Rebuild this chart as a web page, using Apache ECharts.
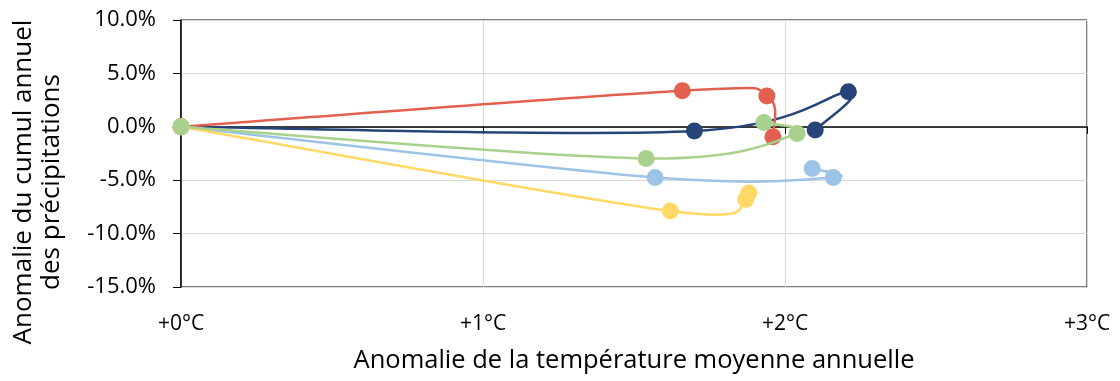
<!DOCTYPE html>
<html>
<head>
<meta charset="utf-8">
<script src="https://cdn.jsdelivr.net/npm/echarts@6/dist/echarts.min.js"></script>
<style>
html,body{margin:0;padding:0;background:#fff;}
#c{width:1120px;height:381px;}
</style>
</head>
<body>
<div id="c"></div>
<script>
// Temperature anomaly (°C) and precipitation anomaly (%) per trajectory
const tempDarkBlue = [0, 1.70, 2.21, 2.10];
const precDarkBlue = [0, -0.40, 3.28, -0.31];
const tempRed = [0, 1.66, 1.94, 1.96];
const precRed = [0, 3.38, 2.88, -0.94];
const tempLightBlue = [0, 1.57, 2.16, 2.09];
const precLightBlue = [0, -4.75, -4.75, -3.91];
const tempYellow = [0, 1.62, 1.87, 1.88];
const precYellow = [0, -7.88, -6.81, -6.19];
const tempGreen = [0, 1.54, 2.04, 1.93];
const precGreen = [0, -2.97, -0.63, 0.41];

const xTickLabels = ['+0°C', '+1°C', '+2°C', '+3°C'];
const yTickLabels = ['-15.0%', '-10.0%', '-5.0%', '0.0%', '5.0%', '10.0%'];
const xTitle = 'Anomalie de la température moyenne annuelle';
const yTitle = 'Anomalie du cumul annuel\ndes précipitations';

const FONT = "'Open Sans', 'Noto Sans', sans-serif";

function pts(xs, ys) { return xs.map((x, i) => [x, ys[i]]); }

const seriesDefs = [
  { name: 'darkblue', color: '#264478', data: pts(tempDarkBlue, precDarkBlue) },
  { name: 'red', color: '#E2604F', data: pts(tempRed, precRed) },
  { name: 'lightblue', color: '#9DC3E6', data: pts(tempLightBlue, precLightBlue) },
  { name: 'yellow', color: '#FFD966', data: pts(tempYellow, precYellow) },
  { name: 'green', color: '#A9D18E', data: pts(tempGreen, precGreen) }
];

const chart = echarts.init(document.getElementById('c'), null, { renderer: 'canvas' });

// Smoothed curve segments (Catmull-Rom style, like spreadsheet smoothing),
// positioned through the chart's own axes with api.coord
function makeRenderer(data, color) {
  return function (params, api) {
    const i = params.dataIndex;
    const n = data.length;
    if (i >= n - 1) return null;
    const p0 = api.coord(data[Math.max(i - 1, 0)]);
    const p1 = api.coord(data[i]);
    const p2 = api.coord(data[i + 1]);
    const p3 = api.coord(data[Math.min(i + 2, n - 1)]);
    const t = 1 / 6;
    return {
      type: 'bezierCurve',
      shape: {
        x1: p1[0], y1: p1[1], x2: p2[0], y2: p2[1],
        cpx1: p1[0] + (p2[0] - p0[0]) * t, cpy1: p1[1] + (p2[1] - p0[1]) * t,
        cpx2: p2[0] - (p3[0] - p1[0]) * t, cpy2: p2[1] - (p3[1] - p1[1]) * t
      },
      style: { stroke: color, lineWidth: 2.5, fill: null, lineCap: 'round' }
    };
  };
}

const series = [];
seriesDefs.forEach((s, i) => {
  series.push({
    name: s.name + '-line',
    type: 'custom',
    xAxisIndex: 0, yAxisIndex: 0,
    data: s.data,
    encode: { x: 0, y: 1 },
    renderItem: makeRenderer(s.data, s.color),
    z: 3 + 2 * i,
    silent: true,
    animation: false
  });
  series.push({
    name: s.name,
    type: 'scatter',
    xAxisIndex: 0, yAxisIndex: 0,
    data: s.data,
    symbol: 'circle',
    symbolSize: 17,
    itemStyle: { color: s.color, opacity: 1 },
    z: 4 + 2 * i,
    animation: false
  });
});

// helper empty series to host the zero axis
series.push({
  type: 'line', xAxisIndex: 1, yAxisIndex: 0, data: [], silent: true, animation: false
});

chart.setOption({
  animation: false,
  grid: {
    left: 181, right: 33, top: 20, bottom: 94,
    show: true, borderColor: '#000', borderWidth: 1, backgroundColor: 'transparent'
  },
  xAxis: [
    {
      type: 'value', min: 0, max: 3, interval: 1,
      axisLine: { show: false, onZero: false },
      axisTick: { show: false },
      splitLine: { show: true, lineStyle: { color: '#d9d9d9', width: 1 } },
      axisLabel: {
        margin: 27, color: '#000', fontFamily: FONT, fontSize: 21,
        formatter: v => xTickLabels[Math.round(v)]
      }
    },
    {
      type: 'value', min: 0, max: 3, interval: 1, position: 'bottom',
      axisLine: { show: true, onZero: true, lineStyle: { color: '#000', width: 1.5 } },
      axisTick: { show: true, length: 7, lineStyle: { color: '#000' } },
      splitLine: { show: false },
      axisLabel: { show: false }
    }
  ],
  yAxis: {
    type: 'value', min: -15, max: 10, interval: 5,
    axisLine: { show: true, onZero: false, lineStyle: { color: '#000', width: 1.5 } },
    axisTick: { show: true, length: 8, lineStyle: { color: '#000' } },
    splitLine: { show: true, lineStyle: { color: '#d9d9d9', width: 1 } },
    axisLabel: {
      margin: 25, color: '#000', fontFamily: FONT, fontSize: 22,
      formatter: v => yTickLabels[Math.round((v + 15) / 5)]
    }
  },
  graphic: [
    {
      type: 'text', x: 634, y: 361,
      style: {
        text: xTitle, fontFamily: FONT, fontSize: 25.5, fill: '#000',
        align: 'center', verticalAlign: 'middle'
      }
    },
    {
      type: 'text', x: 38, y: 182, rotation: Math.PI / 2,
      style: {
        text: yTitle, fontFamily: FONT, fontSize: 26, fill: '#000',
        align: 'center', verticalAlign: 'middle', lineHeight: 28
      }
    }
  ],
  series: series
});
</script>
</body>
</html>
